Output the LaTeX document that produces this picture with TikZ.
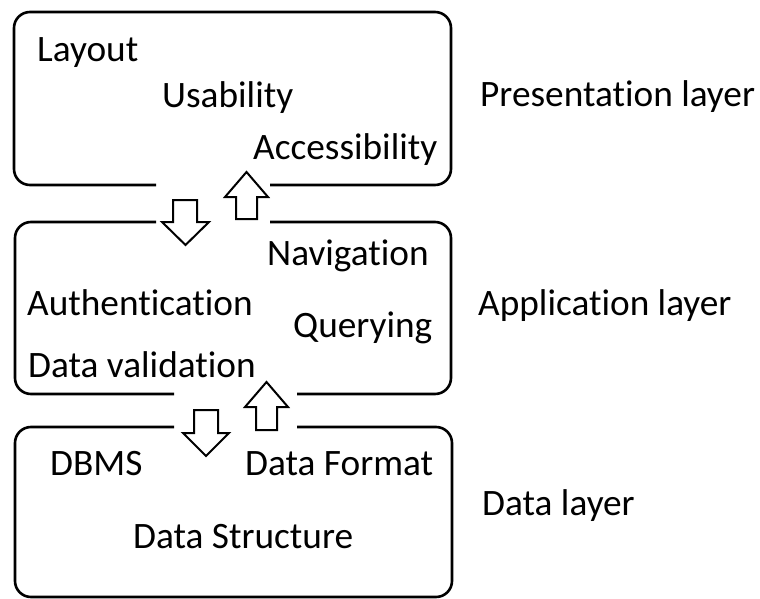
\documentclass[tikz,border=0pt]{standalone}
\usepackage{fontspec}
\setmainfont{Carlito}[Ligatures=NoCommon]
\begin{document}
\begin{tikzpicture}[x=1pt,y=-1pt,
  boxline/.style={line width=2.6pt, rounded corners=16pt, line cap=butt},
  blockarrow/.style={line width=2pt, fill=white, line join=miter},
  lbl/.style={anchor=base west, inner sep=0pt, font=\fontsize{37.3}{40}\selectfont}]
\useasboundingbox (0,0) rectangle (760,599);

% presentation layer box, gap in the bottom edge
\draw[boxline] (156,185) -- (14,185) -- (14,12) -- (451,12) -- (451,185) -- (270,185);
% application layer box, gaps top and bottom
\draw[boxline] (156,222) -- (15,222) -- (15,394) -- (174,394);
\draw[boxline] (270,222) -- (451,222) -- (451,394) -- (297,394);
% data layer box, gap in the top edge
\draw[boxline] (174,427) -- (15,427) -- (15,597) -- (452,597) -- (452,427) -- (297,427);

% block arrows between the layers
\draw[blockarrow] (173,200) -- (197,200) -- (197,222) -- (209,222) -- (185.5,245)
  -- (162,222) -- (173,222) -- cycle;
\draw[blockarrow] (246.5,172) -- (268,197) -- (257,197) -- (257,219) -- (236,219)
  -- (236,197) -- (225,197) -- cycle;
\draw[blockarrow] (266.5,382) -- (288,407) -- (277,407) -- (277,430) -- (256,430)
  -- (256,407) -- (245,407) -- cycle;
\draw[blockarrow] (194,410) -- (218,410) -- (218,433) -- (229,433) -- (206,456)
  -- (183,433) -- (194,433) -- cycle;

% presentation layer contents
\node[lbl] (layout) at (37,62) {Layout};
\node[lbl] (usab) at (162,108) {Usability};
\node[lbl] (access) at (253,160) {Accessibility};
% application layer contents
\node[lbl] (navig) at (267,265) {Navigation};
\node[lbl] (auth) at (27,315) {Authentication};
\node[lbl] (query) at (293,337) {Querying};
\node[lbl] (valid) at (28,377) {Data validation};
% data layer contents
\node[lbl] (dbms) at (50,475) {DBMS};
\node[lbl] (format) at (245,475) {Data Format};
\node[lbl] (struct) at (133,548) {Data Structure};

% layer names
\node[lbl] (pres) at (480,107) {Presentation layer};
\node[lbl] (appl) at (478,315) {Application layer};
\node[lbl] (data) at (482,515) {Data layer};
\end{tikzpicture}
\end{document}
